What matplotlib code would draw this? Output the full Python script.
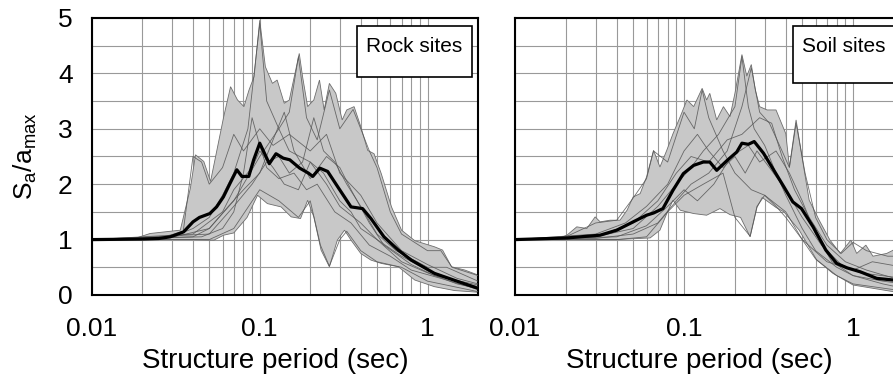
import numpy as np
import matplotlib.pyplot as plt
from matplotlib.patches import Rectangle
from matplotlib.ticker import FixedLocator, LogLocator, NullFormatter

plt.rcParams['font.family'] = ['Liberation Sans', 'DejaVu Sans']
plt.rcParams['mathtext.fontset'] = 'custom'
plt.rcParams['mathtext.rm'] = 'Liberation Sans'

# ---------------- rock sites ----------------
rock_mean_T = [0.01, 0.02, 0.025, 0.0293, 0.0352, 0.04, 0.0437, 0.0504, 0.0553, 0.0607,
               0.0666, 0.073, 0.0783, 0.086, 0.092, 0.1, 0.107, 0.114, 0.125, 0.138,
               0.151, 0.173, 0.195, 0.207, 0.228, 0.254, 0.292, 0.35, 0.41, 0.46,
               0.55, 0.67, 0.80, 1.10, 1.53, 2.0]
rock_mean_Sa = [1.0, 1.01, 1.02, 1.05, 1.14, 1.32, 1.40, 1.47, 1.59, 1.77,
                2.02, 2.26, 2.14, 2.14, 2.44, 2.74, 2.55, 2.37, 2.55, 2.47,
                2.44, 2.29, 2.20, 2.14, 2.29, 2.23, 1.95, 1.59, 1.56, 1.38,
                1.05, 0.81, 0.63, 0.39, 0.24, 0.12]

rock_up_T = [0.01, 0.018, 0.0222, 0.0336, 0.0386, 0.0414, 0.0464, 0.0509, 0.061, 0.067,
             0.0737, 0.0805, 0.0863, 0.0925, 0.1, 0.108, 0.119, 0.127, 0.14, 0.15,
             0.172, 0.18, 0.193, 0.21, 0.227, 0.242, 0.26, 0.284, 0.31, 0.33,
             0.365, 0.40, 0.44, 0.48, 0.53, 0.61, 0.70, 0.84, 1.10, 1.23,
             1.39, 1.67, 2.0]
rock_up_Sa = [1.0, 1.02, 1.11, 1.17, 1.93, 2.53, 2.41, 2.05, 3.22, 3.76,
              3.52, 3.40, 3.70, 3.94, 4.96, 4.12, 3.82, 3.88, 3.46, 3.52,
              4.36, 3.94, 3.40, 3.52, 3.88, 3.34, 3.82, 3.64, 3.16, 3.34,
              3.40, 3.04, 2.61, 2.55, 2.19, 1.59, 1.17, 0.98, 0.87, 0.81,
              0.51, 0.45, 0.36]

rock_lo_T = [0.01, 0.02, 0.0386, 0.0533, 0.061, 0.07, 0.084, 0.097, 0.111, 0.134,
             0.154, 0.175, 0.193, 0.21, 0.232, 0.26, 0.29, 0.32, 0.35, 0.40,
             0.46, 0.53, 0.67, 0.84, 1.1, 1.45, 2.0]
rock_lo_Sa = [1.0, 1.0, 1.0, 0.99, 1.08, 1.12, 1.40, 1.80, 1.65, 1.59,
              1.41, 1.38, 1.71, 1.41, 0.81, 0.51, 0.99, 1.17, 0.99, 0.75,
              0.63, 0.57, 0.51, 0.27, 0.15, 0.08, 0.05]

rock_records = [
    ([0.01, 0.025, 0.035, 0.04, 0.045, 0.05, 0.06, 0.07, 0.08, 0.1, 0.12, 0.15, 0.2, 0.25, 0.3, 0.4, 0.5, 0.7, 1.0, 1.5, 2.0],
     [1.0, 1.02, 1.15, 2.5, 2.4, 2.0, 2.3, 2.9, 2.6, 3.0, 2.7, 2.9, 2.6, 2.9, 2.2, 1.8, 1.3, 0.8, 0.55, 0.3, 0.2]),
    ([0.01, 0.03, 0.04, 0.05, 0.06, 0.07, 0.085, 0.1, 0.11, 0.13, 0.15, 0.2, 0.25, 0.3, 0.4, 0.5, 0.7, 1.0, 1.5, 2.0],
     [1.0, 1.05, 1.2, 1.4, 1.8, 2.2, 3.0, 4.9, 3.5, 3.0, 2.6, 2.4, 2.0, 1.6, 1.3, 1.0, 0.6, 0.4, 0.2, 0.12]),
    ([0.01, 0.03, 0.05, 0.07, 0.1, 0.13, 0.15, 0.17, 0.19, 0.22, 0.26, 0.3, 0.36, 0.4, 0.45, 0.5, 0.6, 0.7, 1.0, 1.2, 1.4, 2.0],
     [1.0, 1.04, 1.2, 1.7, 2.5, 3.0, 3.3, 4.3, 3.2, 2.8, 3.7, 3.0, 3.35, 3.0, 2.6, 2.3, 1.5, 1.1, 0.8, 0.8, 0.5, 0.35]),
    ([0.01, 0.05, 0.07, 0.1, 0.13, 0.17, 0.2, 0.23, 0.26, 0.3, 0.33, 0.4, 0.5, 0.7, 1.0, 2.0],
     [1.0, 1.0, 1.2, 1.9, 1.7, 1.4, 1.7, 0.9, 0.52, 1.0, 1.15, 0.8, 0.6, 0.5, 0.25, 0.06]),
    ([0.01, 0.04, 0.06, 0.07, 0.09, 0.1, 0.12, 0.14, 0.17, 0.2, 0.24, 0.3, 0.35, 0.4, 0.5, 0.7, 1.0, 1.5, 2.0],
     [1.0, 1.1, 1.5, 1.9, 2.3, 2.6, 2.3, 2.0, 1.9, 2.4, 2.2, 1.7, 1.5, 1.2, 1.0, 0.7, 0.45, 0.25, 0.15]),
    ([0.01, 0.04, 0.05, 0.065, 0.08, 0.1, 0.12, 0.14, 0.16, 0.2, 0.25, 0.3, 0.35, 0.45, 0.55, 0.8, 1.1, 2.0],
     [1.0, 1.05, 1.2, 1.6, 1.9, 2.2, 2.8, 3.3, 2.6, 2.1, 2.5, 2.3, 1.9, 1.3, 0.9, 0.55, 0.35, 0.18]),
    ([0.01, 0.045, 0.06, 0.07, 0.08, 0.09, 0.1, 0.11, 0.13, 0.16, 0.19, 0.22, 0.28, 0.35, 0.45, 0.6, 0.8, 1.2, 2.0],
     [1.0, 1.05, 1.2, 1.5, 2.2, 3.2, 2.7, 2.3, 2.1, 2.2, 1.9, 2.0, 1.5, 1.3, 0.9, 0.7, 0.45, 0.3, 0.1]),
    ([0.01, 0.05, 0.07, 0.09, 0.11, 0.13, 0.15, 0.18, 0.21, 0.24, 0.28, 0.33, 0.4, 0.5, 0.65, 1.0, 1.3, 2.0],
     [1.0, 1.1, 1.6, 2.0, 2.4, 2.5, 2.2, 2.4, 3.2, 2.6, 2.4, 2.0, 1.6, 1.1, 0.8, 0.5, 0.5, 0.25]),
]

# ---------------- soil sites ----------------
soil_mean_T = [0.01, 0.0203, 0.0319, 0.04, 0.05, 0.06, 0.066, 0.075, 0.086, 0.099,
               0.114, 0.13, 0.142, 0.156, 0.18, 0.205, 0.22, 0.24, 0.26, 0.295,
               0.34, 0.39, 0.44, 0.495, 0.58, 0.69, 0.80, 0.92, 1.10, 1.38,
               1.73, 2.0]
soil_mean_Sa = [1.0, 1.03, 1.08, 1.17, 1.32, 1.44, 1.48, 1.56, 1.89, 2.19,
                2.34, 2.40, 2.40, 2.25, 2.43, 2.58, 2.74, 2.72, 2.77, 2.56,
                2.25, 1.95, 1.68, 1.56, 1.23, 0.81, 0.57, 0.49, 0.42, 0.30,
                0.27, 0.26]

soil_up_T = [0.01, 0.018, 0.0203, 0.0232, 0.0266, 0.0298, 0.0319, 0.0365, 0.0418, 0.046,
             0.05, 0.055, 0.06, 0.066, 0.072, 0.079, 0.086, 0.095, 0.104, 0.114,
             0.128, 0.136, 0.142, 0.156, 0.171, 0.187, 0.2, 0.22, 0.235, 0.25,
             0.264, 0.28, 0.31, 0.35, 0.40, 0.42, 0.46, 0.51, 0.55, 0.63,
             0.73, 0.84, 0.97, 1.05, 1.19, 1.31, 1.58, 1.73, 2.0]
soil_up_Sa = [1.0, 1.02, 1.08, 1.23, 1.20, 1.41, 1.32, 1.35, 1.35, 1.53,
              1.77, 1.83, 2.13, 2.61, 2.31, 2.61, 2.91, 3.22, 3.52, 3.40,
              3.73, 3.52, 3.64, 3.16, 3.40, 3.22, 3.64, 4.34, 3.95, 4.16,
              3.70, 3.40, 3.34, 3.34, 2.91, 2.31, 3.16, 2.31, 1.71, 1.35,
              0.99, 0.75, 0.99, 0.75, 0.90, 0.70, 0.75, 0.81, 0.75]

soil_lo_T = [0.01, 0.04, 0.063, 0.072, 0.079, 0.086, 0.095, 0.114, 0.136, 0.163,
             0.187, 0.216, 0.246, 0.27, 0.29, 0.35, 0.39, 0.48, 0.61, 0.76,
             1.0, 1.73, 2.0]
soil_lo_Sa = [1.0, 1.0, 1.03, 1.17, 1.47, 1.71, 1.53, 1.47, 1.44, 1.56,
              1.45, 1.40, 1.05, 1.58, 1.76, 1.58, 1.5, 1.17, 0.63, 0.39,
              0.18, 0.06, 0.05]

soil_records = [
    ([0.01, 0.03, 0.05, 0.07, 0.09, 0.11, 0.13, 0.16, 0.2, 0.22, 0.24, 0.26, 0.3, 0.35, 0.4, 0.5, 0.6, 0.8, 1.0, 1.5, 2.0],
     [1.0, 1.05, 1.2, 1.6, 2.0, 2.3, 2.6, 2.9, 3.4, 4.3, 3.4, 3.0, 2.7, 2.2, 1.8, 1.2, 0.8, 0.5, 0.35, 0.25, 0.2]),
    ([0.01, 0.02, 0.03, 0.04, 0.05, 0.06, 0.066, 0.08, 0.1, 0.115, 0.128, 0.14, 0.17, 0.2, 0.25, 0.3, 0.4, 0.5, 0.7, 1.0, 1.3, 2.0],
     [1.0, 1.05, 1.3, 1.35, 1.75, 2.1, 2.6, 2.4, 3.3, 3.0, 3.7, 3.2, 2.6, 2.2, 1.9, 1.8, 1.5, 1.0, 0.6, 0.45, 0.6, 0.5]),
    ([0.01, 0.03, 0.05, 0.07, 0.09, 0.11, 0.14, 0.18, 0.22, 0.25, 0.28, 0.32, 0.38, 0.42, 0.46, 0.52, 0.6, 0.7, 0.85, 1.0, 1.2, 1.6, 2.0],
     [1.0, 1.02, 1.1, 1.3, 1.7, 2.0, 2.2, 2.6, 3.4, 4.1, 3.3, 3.1, 2.6, 2.3, 3.1, 2.2, 1.4, 1.0, 0.75, 0.95, 0.8, 0.7, 0.7]),
    ([0.01, 0.04, 0.06, 0.08, 0.1, 0.13, 0.17, 0.2, 0.246, 0.27, 0.3, 0.35, 0.4, 0.5, 0.6, 0.8, 1.0, 2.0],
     [1.0, 1.0, 1.05, 1.5, 1.8, 2.0, 2.2, 1.4, 1.06, 1.6, 1.8, 1.6, 1.4, 1.0, 0.65, 0.35, 0.2, 0.07]),
    ([0.01, 0.03, 0.05, 0.07, 0.09, 0.11, 0.14, 0.18, 0.22, 0.28, 0.33, 0.38, 0.45, 0.55, 0.7, 0.9, 1.2, 2.0],
     [1.0, 1.05, 1.3, 1.7, 2.2, 2.5, 2.4, 2.8, 2.9, 3.2, 3.1, 2.5, 1.9, 1.4, 0.9, 0.6, 0.45, 0.25]),
    ([0.01, 0.04, 0.06, 0.08, 0.1, 0.12, 0.15, 0.19, 0.24, 0.28, 0.35, 0.42, 0.5, 0.6, 0.75, 1.0, 1.5, 2.0],
     [1.0, 1.05, 1.25, 1.6, 1.9, 1.7, 2.0, 2.5, 2.7, 2.4, 2.6, 2.2, 1.7, 1.1, 0.6, 0.35, 0.2, 0.12]),
    ([0.01, 0.03, 0.045, 0.06, 0.08, 0.1, 0.12, 0.14, 0.17, 0.2, 0.23, 0.27, 0.32, 0.4, 0.5, 0.65, 0.85, 1.1, 2.0],
     [1.0, 1.1, 1.3, 1.6, 2.0, 2.6, 2.9, 2.6, 2.3, 2.5, 2.2, 2.6, 2.3, 1.9, 1.4, 0.9, 0.55, 0.4, 0.3]),
]

panels = [
    ('Rock sites', rock_mean_T, rock_mean_Sa, rock_up_T, rock_up_Sa, rock_lo_T, rock_lo_Sa, rock_records),
    ('Soil sites', soil_mean_T, soil_mean_Sa, soil_up_T, soil_up_Sa, soil_lo_T, soil_lo_Sa, soil_records),
]

fig = plt.figure(figsize=(8.93, 3.78), dpi=100)
axes = [fig.add_axes([0.1030, 0.2196, 0.4323, 0.7328]),
        fig.add_axes([0.5767, 0.2196, 0.4356, 0.7328])]

box_pos = [(0.687, 0.787, 0.297, 0.184, 0.834), (0.715, 0.765, 0.30, 0.205, 0.845)]

for i, (ax, p) in enumerate(zip(axes, panels)):
    name, mT, mS, uT, uS, lT, lS, recs = p
    # envelope
    ax.fill(list(uT) + list(lT[::-1]), list(uS) + list(lS[::-1]),
            facecolor='#c8c8c8', edgecolor='#6e6e6e', lw=0.6, zorder=2)
    for T, S in recs:
        ax.plot(T, S, color='#555555', lw=0.6, alpha=0.85, zorder=3)
    ax.plot(mT, mS, color='black', lw=2.3, zorder=4)

    ax.set_xscale('log')
    ax.set_xlim(0.01, 2.0)
    ax.set_ylim(0, 5)
    ax.xaxis.set_major_locator(FixedLocator([0.01, 0.1, 1]))
    ax.set_xticklabels(['0.01', '0.1', '1'])
    ax.xaxis.set_minor_locator(LogLocator(base=10, subs=np.arange(2, 10)))
    ax.xaxis.set_minor_formatter(NullFormatter())
    ax.set_yticks(np.arange(0, 5.01, 1))
    ax.set_yticks(np.arange(0.5, 5, 1), minor=True)
    ax.grid(True, which='both', color='#999999', lw=0.8, zorder=1)
    ax.set_axisbelow(True)
    ax.tick_params(which='both', length=0, labelsize=19)
    ax.tick_params(axis='x', pad=16)
    ax.tick_params(axis='y', pad=14)
    for sp in ax.spines.values():
        sp.set_linewidth(1.5)
    ax.set_xlabel('Structure period (sec)', fontsize=20)
    ax.xaxis.set_label_coords(0.474, -0.19)

    bx, by, bw, bh, tx = box_pos[i]
    ax.add_patch(Rectangle((bx, by), bw, bh, transform=ax.transAxes, facecolor='white',
                           edgecolor='black', lw=1.2, zorder=6, clip_on=False))
    ax.text(tx, 0.897, name, transform=ax.transAxes, ha='center', va='center',
            fontsize=15, zorder=7)

axes[1].set_yticklabels([])
axes[0].set_ylabel(r'S$_\mathregular{a}$/a$_\mathregular{max}$', fontsize=19)
axes[0].yaxis.set_label_coords(-0.138, 0.5)

fig.savefig('out.png', dpi=100)
